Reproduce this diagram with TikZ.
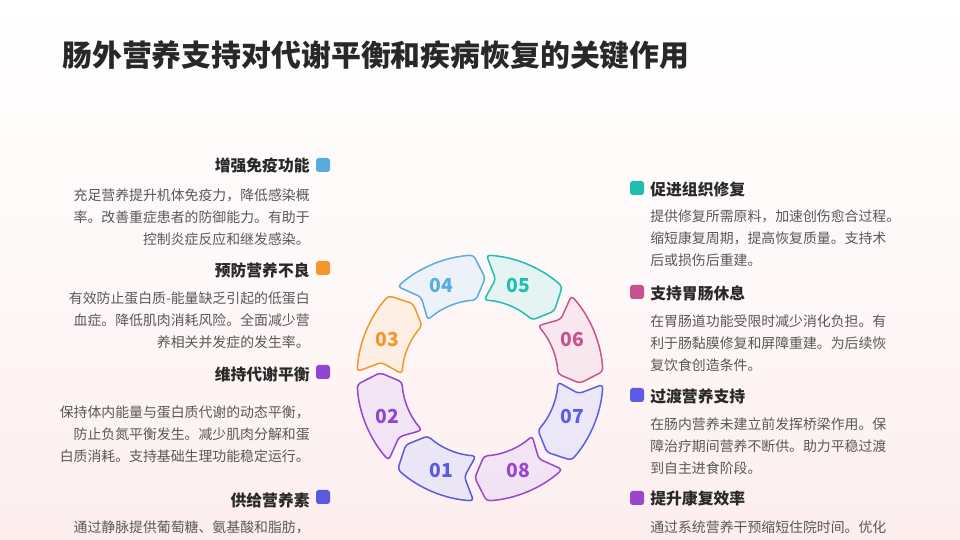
\documentclass[tikz,border=0pt]{standalone}
\usepackage{fontspec}
\setmainfont{Noto Sans CJK SC}

\definecolor{cun}{RGB}{90,90,225}
\definecolor{cdeux}{RGB}{145,70,210}
\definecolor{ctrois}{RGB}{243,150,43}
\definecolor{cquatre}{RGB}{88,172,224}
\definecolor{ccinq}{RGB}{30,190,176}
\definecolor{csix}{RGB}{200,82,142}
\definecolor{csept}{RGB}{92,92,230}
\definecolor{chuit}{RGB}{152,70,205}
\definecolor{fondbas}{RGB}{253,238,238}
\definecolor{titrecol}{RGB}{40,40,40}
\definecolor{corpscol}{RGB}{88,88,88}

\begin{document}
\begin{tikzpicture}[x=0.02cm, y=0.02cm,
  titre/.style={font=\fontsize{17}{20}\selectfont\bfseries, text=titrecol, inner sep=0pt},
  tete/.style={font=\fontsize{9}{11}\selectfont\bfseries, text=titrecol, inner sep=0pt},
  corps/.style={font=\fontsize{7.9}{12.75}\selectfont, text=corpscol, inner sep=0pt},
  carre/.style={minimum size=0.28cm, inner sep=0pt, rounded corners=1.5pt},
  seg/.style={line width=0.85pt, rounded corners=2pt, fill opacity=0.55},
  chiffre/.style={font=\fontsize{11}{13}\selectfont\bfseries, inner sep=0pt}]

  % ==========================================
  % FOND
  % ==========================================
  \useasboundingbox (0,0) rectangle (960,540);
  \shade[top color=white, bottom color=fondbas, middle color=white!60!fondbas] (0,0) rectangle (960,540);

  % Titre
  \node[titre, anchor=west] (titre) at (62,485) {肠外营养支持对代谢平衡和疾病恢复的关键作用};

  % ==========================================
  % ANNEAU CENTRAL (8 segments)
  % ==========================================
  \begin{scope}[shift={(480,162)}]
    \foreach \num/\ang/\col in {01/247.5/cun, 02/202.5/cdeux, 03/157.5/ctrois, 04/112.5/cquatre,
                                05/67.5/ccinq, 06/22.5/csix, 07/-22.5/csept, 08/-67.5/chuit} {
      \draw[seg, draw=\col, fill=\col!20] (\ang+19.5:2.46cm)
        arc[start angle=\ang+19.5, end angle=\ang-19.5, radius=2.46cm]
        -- (\ang-25.5:2cm) -- (\ang-19.5:1.56cm)
        arc[start angle=\ang-19.5, end angle=\ang+19.5, radius=1.56cm]
        -- (\ang+13.5:2cm) -- cycle;
      \node[chiffre, text=\col] (seg\num) at (\ang:2cm) {\num};
    }
  \end{scope}

  % ==========================================
  % COLONNE GAUCHE
  % ==========================================
  \node[carre, fill=cquatre] (carreImmun) at (323,375) {};
  \node[tete, anchor=east] (teteImmun) at (310,374) {增强免疫功能};
  \node[corps, anchor=north east, align=right] (corpsImmun) at (310,352)
    {充足营养提升机体免疫力，降低感染概\\率。改善重症患者的防御能力。有助于\\控制炎症反应和继发感染。};

  \node[carre, fill=ctrois] (carreMalnu) at (323,272) {};
  \node[tete, anchor=east] (teteMalnu) at (310,269) {预防营养不良};
  \node[corps, anchor=north east, align=right] (corpsMalnu) at (310,249)
    {有效防止蛋白质-能量缺乏引起的低蛋白\\血症。降低肌肉消耗风险。全面减少营\\养相关并发症的发生率。};

  \node[carre, fill=cdeux] (carreMetab) at (323,168) {};
  \node[tete, anchor=east] (teteMetab) at (310,166) {维持代谢平衡};
  \node[corps, anchor=north east, align=right] (corpsMetab) at (310,135)
    {保持体内能量与蛋白质代谢的动态平衡，\\防止负氮平衡发生。减少肌肉分解和蛋\\白质消耗。支持基础生理功能稳定运行。};

  \node[carre, fill=cun] (carreNutri) at (323,43) {};
  \node[tete, anchor=east] (teteNutri) at (310,40) {供给营养素};
  \node[corps, anchor=north east, align=right] (corpsNutri) at (310,20)
    {通过静脉提供葡萄糖、氨基酸和脂肪，};

  % ==========================================
  % COLONNE DROITE
  % ==========================================
  \node[carre, fill=ccinq] (carreTissu) at (637,352) {};
  \node[tete, anchor=west] (teteTissu) at (650,351) {促进组织修复};
  \node[corps, anchor=north west, align=left] (corpsTissu) at (650,331)
    {提供修复所需原料，加速创伤愈合过程。\\缩短康复周期，提高恢复质量。支持术\\后或损伤后重建。};

  \node[carre, fill=csix] (carreRepos) at (637,248) {};
  \node[tete, anchor=west] (teteRepos) at (650,247) {支持胃肠休息};
  \node[corps, anchor=north west, align=left] (corpsRepos) at (650,226)
    {在胃肠道功能受限时减少消化负担。有\\利于肠黏膜修复和屏障重建。为后续恢\\复饮食创造条件。};

  \node[carre, fill=csept] (carreTrans) at (637,145) {};
  \node[tete, anchor=west] (teteTrans) at (650,144) {过渡营养支持};
  \node[corps, anchor=north west, align=left] (corpsTrans) at (650,123)
    {在肠内营养未建立前发挥桥梁作用。保\\障治疗期间营养不断供。助力平稳过渡\\到自主进食阶段。};

  \node[carre, fill=chuit] (carreEffic) at (637,42) {};
  \node[tete, anchor=west] (teteEffic) at (650,42) {提升康复效率};
  \node[corps, anchor=north west, align=left] (corpsEffic) at (650,20)
    {通过系统营养干预缩短住院时间。优化};

\end{tikzpicture}
\end{document}
